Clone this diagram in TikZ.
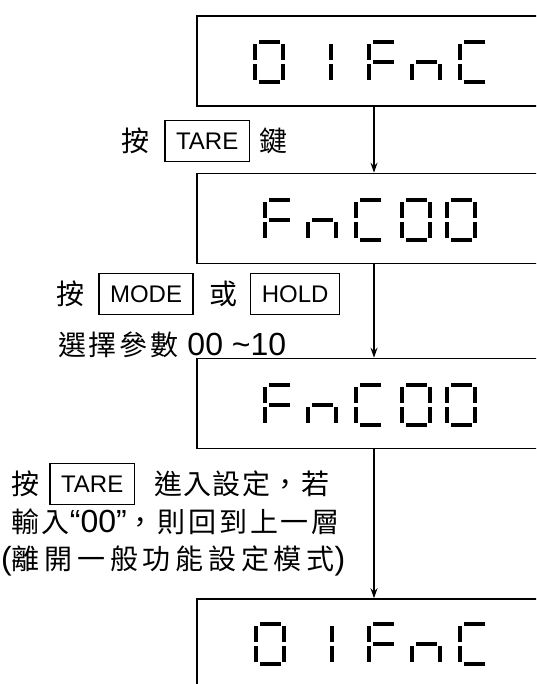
\documentclass[tikz,border=0pt]{standalone}
\usepackage{fontspec}
\setmainfont{Liberation Sans}
\newfontfamily\cjk[LetterSpace=10]{Noto Sans CJK TC}
\newfontfamily\cjktight[LetterSpace=5]{Noto Sans CJK TC}
\newfontfamily\cjkwide[LetterSpace=17]{Noto Sans CJK TC}
\usetikzlibrary{positioning,arrows.meta}

\tikzstyle{display}=[draw=black,line width=1.6pt,minimum width=354pt,minimum height=90pt,inner sep=0pt]
\tikzstyle{keybox}=[draw=black,line width=1.3pt,font=\fontsize{24}{28}\selectfont,inner xsep=11pt,inner ysep=0pt,minimum height=41pt]
\tikzstyle{hanzi}=[font=\cjk\fontsize{28}{32}\selectfont,inner sep=0pt]
\tikzstyle{note}=[font=\fontsize{32}{36}\selectfont,inner sep=0pt,anchor=west]
\tikzstyle{flow}=[line width=1.5pt,-{Stealth[length=10pt,width=7pt]}]
\tikzstyle{seg}=[fill=black]

\newcommand{\zh}[1]{{\cjk\fontsize{28}{32}\selectfont #1}}
\newcommand{\zhwide}[1]{{\cjkwide\fontsize{28}{32}\selectfont #1}}

\newcommand{\sga}[2]{\fill[seg] (#1+6,#2) rectangle (#1+27,#2+4);}
\newcommand{\sgb}[2]{\fill[seg] (#1+28,#2+4) rectangle (#1+32,#2+20);}
\newcommand{\sgc}[2]{\fill[seg] (#1+28,#2+24) rectangle (#1+32,#2+40);}
\newcommand{\sgd}[2]{\fill[seg] (#1+6,#2+40) rectangle (#1+27,#2+44);}
\newcommand{\sge}[2]{\fill[seg] (#1,#2+24) rectangle (#1+4,#2+40);}
\newcommand{\sgf}[2]{\fill[seg] (#1,#2+4) rectangle (#1+4,#2+20);}
\newcommand{\sgg}[2]{\fill[seg] (#1+6,#2+20) rectangle (#1+27,#2+24);}

\newcommand{\segzero}[2]{\sga{#1}{#2}\sgb{#1}{#2}\sgc{#1}{#2}\sgd{#1}{#2}\sge{#1}{#2}\sgf{#1}{#2}}
\newcommand{\segone}[2]{\sgb{#1}{#2}\sgc{#1}{#2}}
\newcommand{\segF}[2]{\sga{#1}{#2}\sge{#1}{#2}\sgf{#1}{#2}\sgg{#1}{#2}}
\newcommand{\segn}[2]{\sgc{#1}{#2}\sge{#1}{#2}\sgg{#1}{#2}}
\newcommand{\segC}[2]{\sga{#1}{#2}\sgd{#1}{#2}\sge{#1}{#2}\sgf{#1}{#2}}

\begin{document}
\begin{tikzpicture}[x=1pt,y=-1pt]
    \useasboundingbox (0,0) rectangle (536,684);
    \clip (0,0) rectangle (536,684);

    \node[display] (d1) at (374,61) {};
    \node[display] (d2) at (374,218.5) {};
    \node[display] (d3) at (374,403.5) {};
    \node[display] (d4) at (374,644) {};

    \foreach \x/\g in {253/zero,301/one,367/F,410/n,458/C}
        {\csname seg\g\endcsname{\x}{40}}
    \foreach \x/\g in {263/F,306/n,354/C,400/zero,445/zero}
        {\csname seg\g\endcsname{\x}{198}}
    \foreach \x/\g in {263/F,306/n,354/C,400/zero,445/zero}
        {\csname seg\g\endcsname{\x}{383}}
    \foreach \x/\g in {254/zero,302/one,367/F,410/n,458/C}
        {\csname seg\g\endcsname{\x}{622}}

    \draw[flow] (d1) -- (d2);
    \draw[flow] (d2) -- (d3);
    \draw[flow] (d3) -- (d4);

    \node[hanzi,anchor=west] (an1) at (121,141) {按};
    \node[keybox,right=15pt of an1] (tare1) {TARE};
    \node[hanzi,right=9pt of tare1] (jian) {鍵};

    \node[hanzi,anchor=west] (an2) at (56,294) {按};
    \node[keybox,right=14pt of an2] (mode) {MODE};
    \node[hanzi,right=16pt of mode] (huo) {或};
    \node[keybox,right=12pt of huo] (hold) {HOLD};
    \node[note] (range) at (58,345) {\zh{選擇參數} 00 \textasciitilde10};

    \node[hanzi,anchor=west] (an3) at (11,484) {按};
    \node[keybox,right=10pt of an3] (tare2) {TARE};
    \node[hanzi,font=\cjktight\fontsize{28}{32}\selectfont,right=19pt of tare2] (enter) {進入設定，若};
    \node[note] (back) at (11,522) {\zh{輸入}“00”\zh{，則回到上一層}};
    \node[note] (leave) at (1,561) {(\zhwide{離開一般功能設定模式})};
\end{tikzpicture}
\end{document}
